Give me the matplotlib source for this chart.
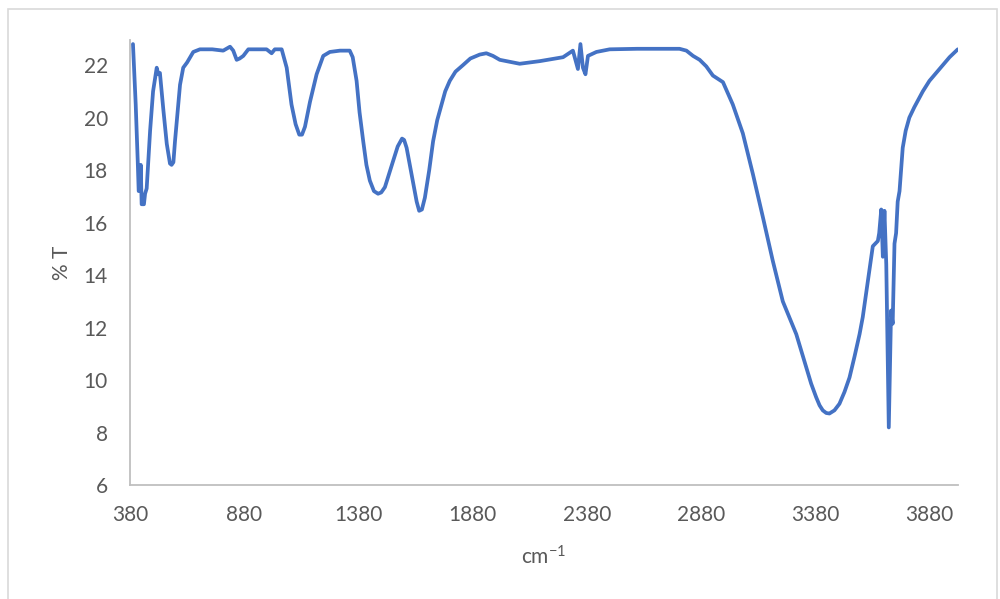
import matplotlib
matplotlib.use("Agg")
import matplotlib.pyplot as plt
from matplotlib.patches import Rectangle

wavenumber = [393, 405, 414, 418, 424, 427, 431, 441, 446, 453, 468, 481, 497, 504, 511,
              526, 541, 555, 562, 570, 577, 599, 613, 630, 657, 686, 740, 788, 818, 832,
              847, 860, 876, 898, 978, 1000, 1014, 1044, 1066, 1087, 1105, 1121, 1133,
              1146, 1168, 1197, 1226, 1255, 1299, 1342, 1355, 1372, 1385, 1401, 1415,
              1430, 1448, 1466, 1480, 1496, 1512, 1532, 1552, 1571, 1580, 1591, 1605,
              1620, 1635, 1646, 1658, 1671, 1690, 1707, 1725, 1744, 1760, 1780, 1805,
              1838, 1870, 1911, 1940, 1969, 1999, 2086, 2174, 2276, 2319, 2341, 2352,
              2363, 2374, 2385, 2422, 2480, 2600, 2786, 2816, 2845, 2874, 2903, 2932,
              2976, 3019, 3063, 3107, 3151, 3194, 3238, 3297, 3340, 3362, 3384, 3399,
              3413, 3428, 3442, 3464, 3486, 3508, 3530, 3552, 3574, 3588, 3632, 3654,
              3660, 3669, 3676, 3683, 3691, 3702, 3712, 3719, 3727, 3734, 3741, 3749,
              3763, 3776, 3792, 3814, 3851, 3880, 3924, 3968, 4004]
transmittance = [22.8, 20.5, 18.3, 17.2, 17.3, 18.2, 16.7, 16.7, 17.1, 17.3, 19.5, 21.0,
                 21.9, 21.65, 21.7, 20.3, 19.0, 18.25, 18.2, 18.3, 19.1, 21.25, 21.9,
                 22.1, 22.5, 22.6, 22.6, 22.55, 22.7, 22.55, 22.2, 22.25, 22.35, 22.6,
                 22.6, 22.45, 22.6, 22.6, 21.9, 20.5, 19.75, 19.35, 19.35, 19.65, 20.6,
                 21.65, 22.35, 22.5, 22.55, 22.55, 22.3, 21.4, 20.2, 19.1, 18.2, 17.6,
                 17.2, 17.1, 17.15, 17.35, 17.8, 18.35, 18.9, 19.2, 19.15, 18.85, 18.2,
                 17.5, 16.8, 16.45, 16.5, 16.95, 18.0, 19.1, 19.9, 20.5, 21.0, 21.4,
                 21.75, 22.0, 22.25, 22.4, 22.45, 22.35, 22.2, 22.05, 22.15, 22.3, 22.55,
                 21.85, 22.8, 21.9, 21.65, 22.35, 22.5, 22.6, 22.62, 22.62, 22.55, 22.35,
                 22.2, 21.95, 21.6, 21.35, 20.5, 19.4, 17.85, 16.2, 14.55, 13.0, 11.75,
                 10.5, 9.87, 9.35, 9.04, 8.85, 8.75, 8.73, 8.85, 9.1, 9.55, 10.1, 10.9,
                 11.75, 12.4, 15.1, 15.3, 15.6, 16.5, 14.7, 16.45, 14.4, 8.2, 12.65,
                 12.15, 15.2, 15.6, 16.8, 17.2, 18.85, 19.5, 20.0, 20.4, 21.0, 21.4,
                 21.85, 22.3, 22.6]
x_ticks = [380, 880, 1380, 1880, 2380, 2880, 3380, 3880]
y_ticks = [6, 8, 10, 12, 14, 16, 18, 20, 22]

plt.rcParams['font.family'] = ['Lato', 'DejaVu Sans']
plt.rcParams['mathtext.fontset'] = 'custom'
plt.rcParams['mathtext.rm'] = 'Lato'
plt.rcParams['mathtext.default'] = 'regular'

fig = plt.figure(figsize=(10, 5.99), dpi=100)
ax = fig.add_axes([0.130, 0.190, 0.828, 0.743])
ax.plot(wavenumber, transmittance, color='#4472C4', lw=2.7,
        solid_joinstyle='round', solid_capstyle='round')
ax.set_xlim(380, 4005)
ax.set_ylim(6, 22.95)
ax.set_xticks(x_ticks)
ax.set_yticks(y_ticks)
ax.tick_params(length=0, labelsize=15, labelcolor='#595959')
ax.tick_params(axis='y', pad=16)
ax.tick_params(axis='x', pad=14)
for s in ['top', 'right']:
    ax.spines[s].set_visible(False)
for s in ['left', 'bottom']:
    ax.spines[s].set_color('#BFBFBF')
    ax.spines[s].set_linewidth(1.3)
ax.set_xlabel('cm$^{-1}$', fontsize=15, color='#595959', labelpad=15)
ax.set_ylabel('% T', fontsize=15, color='#595959', labelpad=8)

fig.patches.append(Rectangle((0.008, -0.05), 0.989, 1.035, transform=fig.transFigure,
                             fill=False, edgecolor='#D9D9D9', lw=1.2))
fig.savefig('out.png', dpi=100)
